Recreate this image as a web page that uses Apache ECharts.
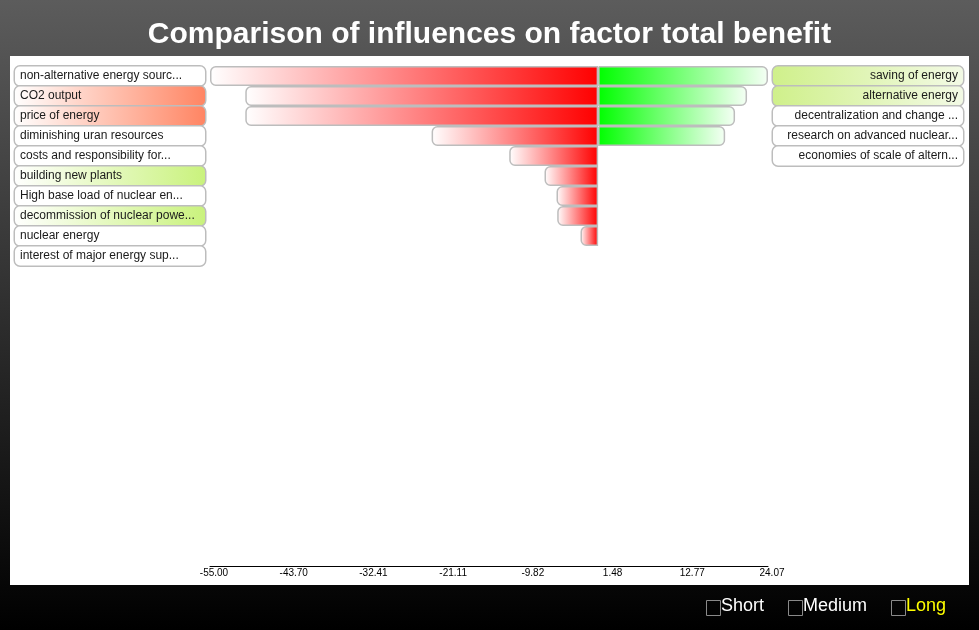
<!DOCTYPE html>
<html>
<head>
<meta charset="utf-8">
<script src="https://cdn.jsdelivr.net/npm/echarts@6/dist/echarts.min.js"></script>
<style>
html,body{margin:0;padding:0;background:#000;}
#chart{width:979px;height:630px;}
</style>
</head>
<body>
<div id="chart"></div>
<script>
// ---- data ----
const titleText = 'Comparison of influences on factor total benefit';
const negativeLabels = [
  'non-alternative energy sourc...',
  'CO2 output',
  'price of energy',
  'diminishing uran resources',
  'costs and responsibility for...',
  'building new plants',
  'High base load of nuclear en...',
  'decommission of nuclear powe...',
  'nuclear energy',
  'interest of major energy sup...'
];
const negativeValues = [-55, -50.0, -50.0, -23.6, -12.6, -7.6, -5.9, -5.8, -2.5, null];
const negativeTags = ['plain', 'orange', 'orange', 'plain', 'plain', 'green', 'plain', 'green', 'plain', 'plain'];

const positiveLabels = [
  'saving of energy',
  'alternative energy',
  'decentralization and change ...',
  'research on advanced nuclear...',
  'economies of scale of altern...'
];
const positiveValues = [24.07, 21.1, 19.4, 18.0, null];
const positiveTags = ['green', 'green', 'plain', 'plain', 'plain'];

const axisMin = -55.00;
const axisMax = 24.07;
const tickValues = [-55.00, -43.70, -32.41, -21.11, -9.82, 1.48, 12.77, 24.07];
const horizons = ['Short', 'Medium', 'Long'];
const activeHorizon = 'Long';

// ---- chart ----
const FONT = '"Liberation Sans", Arial, Helvetica, sans-serif';
const chart = echarts.init(document.getElementById('chart'), null, {renderer: 'canvas'});

function grad(c0, c1) {
  return {type: 'linear', x: 0, y: 0, x2: 1, y2: 0,
    colorStops: [{offset: 0, color: c0}, {offset: 1, color: c1}]};
}
function boxStyle(align, bg) {
  return {
    fontSize: 12, fontFamily: FONT, color: '#1a1a1a',
    width: 180, height: 17, lineHeight: 17, padding: [1, 5, 1, 5],
    align: align, borderColor: '#bdbdbd', borderWidth: 1.5, borderRadius: 5,
    backgroundColor: bg
  };
}
const leftRich = {
  plain: boxStyle('left', '#ffffff'),
  orange: boxStyle('left', grad('#ffffff', '#ff8462')),
  green: boxStyle('left', grad('#ffffff', '#c9f27c'))
};
const rightRich = {
  plain: boxStyle('right', '#ffffff'),
  orange: boxStyle('right', grad('#ff8462', '#ffffff')),
  green: boxStyle('right', grad('#cff08a', '#f3fae6'))
};
const rightCats = [];
for (let i = 0; i < negativeLabels.length; i++) {
  rightCats.push(i < positiveLabels.length ? positiveLabels[i] : ' '.repeat(i + 1));
}

// bottom horizon toggles
const toggleGraphics = [];
const toggleX = [704, 786, 889];
horizons.forEach((h, i) => {
  toggleGraphics.push({
    type: 'rect', left: toggleX[i], top: 598,
    shape: {x: 0, y: 0, width: 14, height: 15},
    style: {fill: 'none', stroke: '#8a8a8a', lineWidth: 1}
  });
  toggleGraphics.push({
    type: 'text', left: toggleX[i] + 17, top: 597,
    style: {text: h, fill: h === activeHorizon ? '#ffff00' : '#ffffff', font: '18px ' + FONT}
  });
});

const option = {
  animation: false,
  backgroundColor: {type: 'linear', x: 0, y: 0, x2: 0, y2: 1,
    colorStops: [{offset: 0, color: '#5c5c5c'}, {offset: 1, color: '#000000'}]},
  graphic: [
    {type: 'rect', left: 10, top: 56, z: -10,
      shape: {x: 0, y: 0, width: 959, height: 529}, style: {fill: '#ffffff'}}
  ].concat(toggleGraphics),
  title: {
    text: titleText, left: 'center', top: 15,
    textStyle: {color: '#ffffff', fontSize: 30, fontWeight: 'bold', fontFamily: FONT}
  },
  grid: {left: 210, right: 211, top: 66, height: 200, containLabel: false},
  xAxis: {
    type: 'value', min: axisMin, max: axisMax, position: 'bottom', offset: 300,
    axisLine: {show: true, lineStyle: {color: '#000', width: 1}},
    axisTick: {show: false},
    splitLine: {show: false},
    axisLabel: {
      customValues: tickValues, fontSize: 10, fontFamily: FONT, color: '#000', margin: 2,
      padding: [0, 0, 0, 8],
      formatter: v => v.toFixed(2)
    }
  },
  yAxis: [
    {
      type: 'category', data: negativeLabels, inverse: true, position: 'left',
      axisLine: {show: false}, axisTick: {show: false}, splitLine: {show: false},
      axisLabel: {
        interval: 0, margin: 5,
        formatter: (v, i) => '{' + negativeTags[i] + '|' + v + '}',
        rich: leftRich
      }
    },
    {
      type: 'category', data: rightCats, inverse: true, position: 'right',
      axisLine: {show: false}, axisTick: {show: false}, splitLine: {show: false},
      axisLabel: {
        interval: 0, margin: 5,
        formatter: (v, i) => i < positiveLabels.length ? '{' + positiveTags[i] + '|' + v + '}' : '',
        rich: rightRich
      }
    }
  ],
  series: [
    {
      name: 'negative', type: 'bar', yAxisIndex: 0, data: negativeValues,
      barWidth: 20, barGap: '-100%',
      itemStyle: {color: grad('#ffffff', '#ff0000'), borderColor: '#bdbdbd', borderWidth: 1.5,
        borderRadius: [5, 0, 0, 5]}
    },
    {
      name: 'positive', type: 'bar', yAxisIndex: 1, data: positiveValues,
      barWidth: 20, barGap: '-100%',
      itemStyle: {color: grad('#00ff00', '#f5fff5'), borderColor: '#bdbdbd', borderWidth: 1.5,
        borderRadius: [0, 5, 5, 0]}
    }
  ]
};
chart.setOption(option);
</script>
</body>
</html>
